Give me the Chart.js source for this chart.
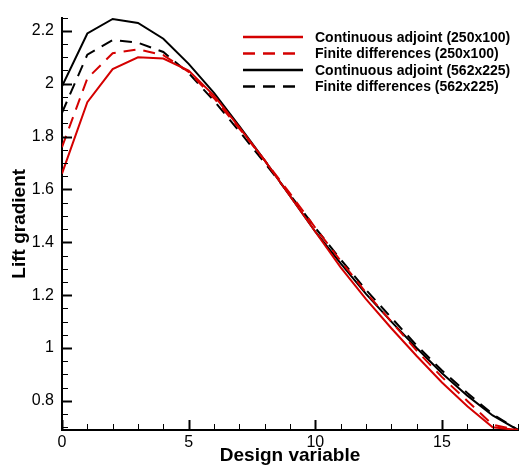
<!DOCTYPE html>
<html>
<head>
<meta charset="utf-8">
<script src="https://cdn.jsdelivr.net/npm/chart.js@4.4.1/dist/chart.umd.min.js"></script>
<style>
  html, body { margin: 0; padding: 0; background: #fff; }
  canvas { display: block; }
</style>
</head>
<body>
<canvas id="gradient" width="519" height="468"></canvas>
<script>
// design variables along the airfoil
const designVars = [0, 1, 2, 3, 4, 5, 6, 7, 8, 9, 10, 11, 12, 13, 14, 15, 16, 17, 18];

// lift gradient, coarse mesh (250x100)
const adjointCoarse = [1.66, 1.93, 2.055, 2.10, 2.095, 2.05, 1.955, 1.835, 1.71, 1.575, 1.44, 1.305, 1.185, 1.075, 0.97, 0.87, 0.78, 0.70, 0.69];
const fdCoarse      = [1.76, 2.02, 2.115, 2.13, 2.108, 2.045, 1.945, 1.83, 1.71, 1.585, 1.455, 1.33, 1.21, 1.10, 0.99, 0.89, 0.80, 0.71, 0.69];

// lift gradient, fine mesh (562x225)
const adjointFine = [1.99, 2.19, 2.245, 2.23, 2.17, 2.075, 1.965, 1.84, 1.71, 1.575, 1.44, 1.32, 1.205, 1.10, 1.00, 0.905, 0.82, 0.745, 0.69];
const fdFine      = [1.89, 2.11, 2.165, 2.155, 2.12, 2.04, 1.935, 1.82, 1.70, 1.58, 1.455, 1.335, 1.22, 1.115, 1.01, 0.915, 0.83, 0.75, 0.69];

const xTickValues = [0, 5, 10, 15];
const yTickValues = [0.8, 1, 1.2, 1.4, 1.6, 1.8, 2, 2.2];

const RED = '#d40000';
const FONT = '"Liberation Sans", Arial, Helvetica, sans-serif';

const toPoints = (arr) => arr.map((v, i) => ({x: designVars[i], y: v}));

// inward major/minor ticks like the tecplot axes
const innerTicks = {
    id: 'innerTicks',
    afterDraw(chart) {
        const ctx = chart.ctx;
        const xs = chart.scales.x, ys = chart.scales.y;
        const a = chart.chartArea;
        ctx.save();
        ctx.strokeStyle = '#000';
        for (let v = xs.min; v <= xs.max + 1e-9; v += 1) {
            const major = xTickValues.includes(Math.round(v));
            const px = Math.round(xs.getPixelForValue(v)) + 0.5;
            ctx.lineWidth = major ? 2 : 1;
            ctx.beginPath();
            ctx.moveTo(px, a.bottom);
            ctx.lineTo(px, a.bottom - (major ? 10 : 6));
            ctx.stroke();
        }
        for (let k = Math.ceil(ys.min / 0.05); k * 0.05 <= ys.max + 1e-9; k++) {
            const v = k * 0.05;
            const major = yTickValues.some(t => Math.abs(t - v) < 1e-6);
            const py = Math.round(ys.getPixelForValue(v)) + 0.5;
            ctx.lineWidth = major ? 2 : 1;
            ctx.beginPath();
            ctx.moveTo(a.left, py);
            ctx.lineTo(a.left + (major ? 10 : 6), py);
            ctx.stroke();
        }
        ctx.restore();
    }
};

// legend box in the upper right of the plot
const sideLegend = {
    id: 'sideLegend',
    afterDraw(chart) {
        const ctx = chart.ctx;
        ctx.save();
        ctx.font = 'bold 14px ' + FONT;
        ctx.textBaseline = 'middle';
        chart.data.datasets.forEach((ds, i) => {
            const y = 37 + i * 16.5;
            ctx.strokeStyle = ds.borderColor;
            ctx.lineWidth = 2.5;
            ctx.setLineDash(ds.borderDash || []);
            ctx.beginPath();
            ctx.moveTo(243, y);
            ctx.lineTo(303, y);
            ctx.stroke();
            ctx.setLineDash([]);
            ctx.fillStyle = '#000';
            ctx.fillText(ds.label, 315, y + 1);
        });
        ctx.restore();
    }
};

const fmt = (v) => String(Math.round(v * 100) / 100);

new Chart(document.getElementById('gradient'), {
    type: 'line',
    data: {
        datasets: [
            {label: 'Continuous adjoint (250x100)', data: toPoints(adjointCoarse), borderColor: RED, borderWidth: 2},
            {label: 'Finite differences (250x100)', data: toPoints(fdCoarse), borderColor: RED, borderWidth: 2, borderDash: [12, 8]},
            {label: 'Continuous adjoint (562x225)', data: toPoints(adjointFine), borderColor: '#000', borderWidth: 2},
            {label: 'Finite differences (562x225)', data: toPoints(fdFine), borderColor: '#000', borderWidth: 2, borderDash: [12, 8]}
        ]
    },
    options: {
        responsive: false,
        animation: false,
        events: [],
        elements: {
            point: {radius: 0},
            line: {tension: 0, borderCapStyle: 'butt'}
        },
        layout: {padding: {top: 12, right: 1, left: 0, bottom: 0}},
        plugins: {
            legend: {display: false},
            tooltip: {enabled: false}
        },
        scales: {
            x: {
                type: 'linear',
                min: 0,
                max: 18,
                afterBuildTicks: (scale) => { scale.ticks = xTickValues.map(v => ({value: v})); },
                afterFit: (scale) => { scale.height = 38; },
                grid: {display: false, drawTicks: false},
                border: {display: true, color: '#000', width: 2},
                ticks: {
                    color: '#000',
                    font: {family: FONT, size: 16},
                    padding: 3,
                    maxRotation: 0,
                    callback: fmt
                },
                title: {
                    display: true,
                    text: 'Design variable',
                    color: '#000',
                    font: {family: FONT, size: 19, weight: 'bold'},
                    padding: {top: 0, bottom: 1}
                }
            },
            y: {
                min: 0.69,
                max: 2.25,
                afterBuildTicks: (scale) => { scale.ticks = yTickValues.map(v => ({value: v})); },
                afterFit: (scale) => { scale.width = 62; },
                grid: {display: false, drawTicks: false},
                border: {display: true, color: '#000', width: 2},
                ticks: {
                    color: '#000',
                    font: {family: FONT, size: 16},
                    padding: 8,
                    callback: fmt
                },
                title: {
                    display: true,
                    text: 'Lift gradient',
                    color: '#000',
                    font: {family: FONT, size: 19, weight: 'bold'},
                    padding: {top: 8, bottom: 0}
                }
            }
        }
    },
    plugins: [innerTicks, sideLegend]
});
</script>
</body>
</html>
